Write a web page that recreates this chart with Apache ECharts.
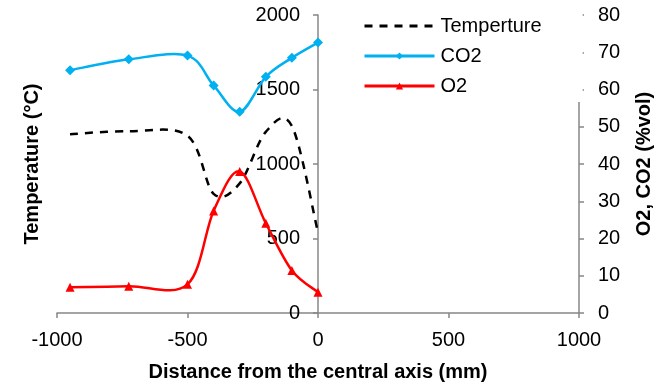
<!DOCTYPE html>
<html>
<head>
<meta charset="utf-8">
<script src="https://cdn.jsdelivr.net/npm/echarts@6/dist/echarts.min.js"></script>
<style>
  html, body { margin: 0; padding: 0; background: #fff; }
  #chart { width: 663px; height: 387px; }
</style>
</head>
<body>
<div id="chart"></div>
<script>
// Radial positions of the measurement points (mm from the central axis)
const distance = [-950, -725, -500, -400, -300, -200, -100, 0];
// Gas temperature (°C), left axis
const temperature = [1200, 1220, 1190, 800, 870, 1215, 1255, 540];
// Gas composition (%vol), right axis
const co2 = [65.2, 68.1, 69.1, 61.1, 54.0, 63.4, 68.5, 72.6];
const o2 = [6.9, 7.2, 7.7, 27.4, 38.0, 24.1, 11.4, 5.6];

const xTicks = { min: -1000, max: 1000, interval: 500 };
const tempTicks = { min: 0, max: 2000, interval: 500 };
const gasTicks = { min: 0, max: 80, interval: 10 };

const pairs = (ys) => distance.map((x, i) => [x, ys[i]]);
const plain = (v) => String(v);

const FONT = '"Liberation Sans", Arial, sans-serif';
const AXIS_GREY = '#878787';
const TICK_FONT = 20;
const TEMP_COLOR = '#000000';
const CO2_COLOR = '#00B0F0';
const O2_COLOR = '#FF0000';
const TEMP_DASH = [8, 7];

// Smooth curve through every point of a series (Catmull-Rom, drawn as cubic
// Bezier segments in pixel space), positioned with the series' own axes.
function smoothCurve(color, dash) {
  return function (params, api) {
    if (params.dataIndex !== 0) return null;
    const n = params.dataInsideLength;
    const p = [];
    for (let i = 0; i < n; i++) {
      p.push(api.coord([api.value(0, i), api.value(1, i)]));
    }
    let d = 'M' + p[0][0] + ',' + p[0][1];
    for (let i = 0; i < n - 1; i++) {
      const a = p[Math.max(i - 1, 0)];
      const b = p[i];
      const c = p[i + 1];
      const e = p[Math.min(i + 2, n - 1)];
      const c1x = b[0] + (c[0] - a[0]) / 6;
      const c1y = b[1] + (c[1] - a[1]) / 6;
      const c2x = c[0] - (e[0] - b[0]) / 6;
      const c2y = c[1] - (e[1] - b[1]) / 6;
      d += ' C' + c1x + ',' + c1y + ' ' + c2x + ',' + c2y + ' ' + c[0] + ',' + c[1];
    }
    return {
      type: 'path',
      silent: true,
      shape: { pathData: d },
      style: { fill: 'none', stroke: color, lineWidth: 2.5, lineDash: dash || null, lineJoin: 'round' }
    };
  };
}

const chart = echarts.init(document.getElementById('chart'), null, { renderer: 'canvas' });

chart.setOption({
  animation: false,
  backgroundColor: '#ffffff',
  textStyle: { fontFamily: FONT, color: '#000' },
  grid: { left: 57, right: 84, top: 15, bottom: 74, containLabel: false, outerBoundsMode: 'none' },
  legend: {
    orient: 'vertical',
    left: 357,
    top: 10,
    padding: [6, 41, 6, 6],
    itemGap: 10,
    itemWidth: 70,
    itemHeight: 9,
    backgroundColor: '#ffffff',
    itemStyle: { opacity: 1 },
    lineStyle: { opacity: 1, width: 3 },
    textStyle: { fontFamily: FONT, fontSize: 20, color: '#000', padding: [0, 0, 0, 1] },
    data: [
      { name: 'Temperture', itemStyle: { opacity: 0 } },
      'CO2',
      'O2'
    ]
  },
  xAxis: {
    type: 'value',
    min: xTicks.min,
    max: xTicks.max,
    interval: xTicks.interval,
    name: 'Distance from the central axis (mm)',
    nameLocation: 'middle',
    nameGap: 49,
    nameTextStyle: { fontFamily: FONT, fontSize: 20, fontWeight: 'bold', color: '#000' },
    axisLine: { onZero: false, lineStyle: { color: AXIS_GREY, width: 1.5 } },
    axisTick: { show: true, inside: false, length: 5, lineStyle: { color: AXIS_GREY, width: 1.5 } },
    axisLabel: { margin: 17, fontFamily: FONT, fontSize: TICK_FONT, color: '#000', formatter: plain },
    splitLine: { show: false }
  },
  yAxis: [
    {
      // temperature axis sits on x = 0; its labels are pulled across to it
      type: 'value',
      position: 'left',
      min: tempTicks.min,
      max: tempTicks.max,
      interval: tempTicks.interval,
      name: 'Temperature (°C)',
      nameLocation: 'middle',
      nameRotate: 90,
      nameGap: 15,
      nameTextStyle: { fontFamily: FONT, fontSize: 20, fontWeight: 'bold', color: '#000' },
      axisLine: { show: true, onZero: true, lineStyle: { color: AXIS_GREY, width: 1.5 } },
      axisTick: { show: true, inside: false, length: 5, lineStyle: { color: AXIS_GREY, width: 1.5 } },
      axisLabel: { margin: -243, fontFamily: FONT, fontSize: TICK_FONT, color: '#000', formatter: plain },
      splitLine: { show: false }
    },
    {
      type: 'value',
      position: 'right',
      min: gasTicks.min,
      max: gasTicks.max,
      interval: gasTicks.interval,
      name: 'O2, CO2 (%vol)',
      nameLocation: 'middle',
      nameRotate: 90,
      nameGap: 55,
      nameTextStyle: { fontFamily: FONT, fontSize: 20, fontWeight: 'bold', color: '#000' },
      axisLine: { show: true, onZero: false, lineStyle: { color: AXIS_GREY, width: 1.5 } },
      axisTick: { show: true, inside: false, length: 5, lineStyle: { color: AXIS_GREY, width: 1.5 } },
      axisLabel: { margin: 19, fontFamily: FONT, fontSize: TICK_FONT, color: '#000', formatter: plain },
      splitLine: { show: false }
    }
  ],
  series: [
    // point markers (their own connecting line is hidden; it only feeds the legend)
    {
      name: 'Temperture',
      type: 'line',
      yAxisIndex: 0,
      data: pairs(temperature),
      symbol: 'none',
      lineStyle: { color: TEMP_COLOR, width: 2.5, type: TEMP_DASH, opacity: 0 },
      itemStyle: { color: TEMP_COLOR },
      z: 6
    },
    {
      name: 'CO2',
      type: 'line',
      yAxisIndex: 1,
      data: pairs(co2),
      symbol: 'diamond',
      symbolSize: 10,
      lineStyle: { color: CO2_COLOR, width: 2.5, opacity: 0 },
      itemStyle: { color: CO2_COLOR, opacity: 1 },
      z: 7
    },
    {
      name: 'O2',
      type: 'line',
      yAxisIndex: 1,
      data: pairs(o2),
      symbol: 'triangle',
      symbolSize: 9,
      lineStyle: { color: O2_COLOR, width: 2.5, opacity: 0 },
      itemStyle: { color: O2_COLOR, opacity: 1 },
      z: 8
    },
    // smooth curves through the same points
    {
      name: 'Temperture',
      type: 'custom',
      yAxisIndex: 0,
      data: pairs(temperature),
      itemStyle: { color: TEMP_COLOR },
      renderItem: smoothCurve(TEMP_COLOR, TEMP_DASH),
      z: 3
    },
    {
      name: 'CO2',
      type: 'custom',
      yAxisIndex: 1,
      data: pairs(co2),
      itemStyle: { color: CO2_COLOR },
      renderItem: smoothCurve(CO2_COLOR),
      z: 4
    },
    {
      name: 'O2',
      type: 'custom',
      yAxisIndex: 1,
      data: pairs(o2),
      itemStyle: { color: O2_COLOR },
      renderItem: smoothCurve(O2_COLOR),
      z: 5
    }
  ]
});
</script>
</body>
</html>
